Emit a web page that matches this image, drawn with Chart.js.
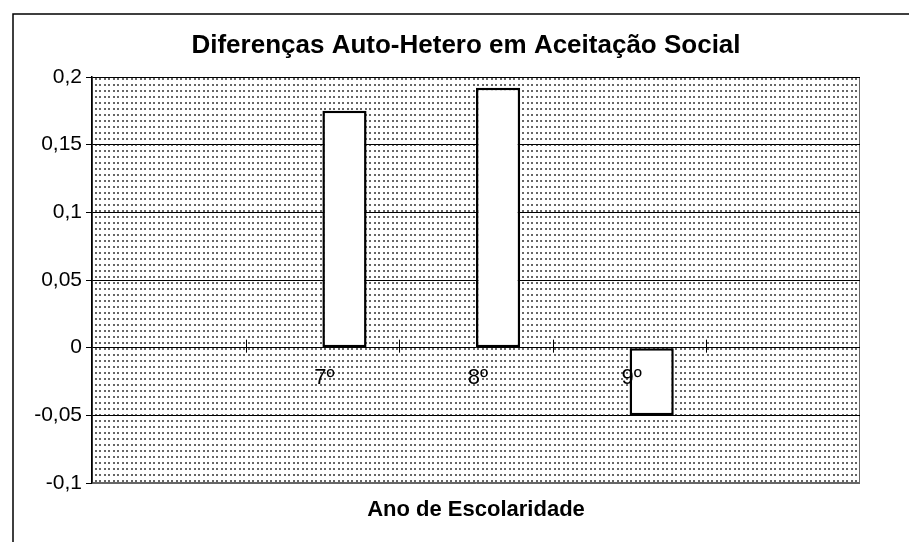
<!DOCTYPE html>
<html>
<head>
<meta charset="utf-8">
<script src="https://cdn.jsdelivr.net/npm/chart.js@4"></script>
<style>
  html, body { margin: 0; padding: 0; background: #fff; }
  #wrap { width: 909px; height: 542px; }
</style>
</head>
<body>
<div id="wrap"><canvas id="chart" width="909" height="542"></canvas></div>
<script>
// categories on the x axis (first and last slots are empty in the original)
const categories = ['', '7º', '8º', '9º', ''];
// first series has no values, it only takes up the left half of each group
const serie1 = [null, null, null, null, null];
const serie2 = [null, 0.175, 0.192, -0.05, null];
const yTicks = [-0.1, -0.05, 0, 0.05, 0.1, 0.15, 0.2];
const chartTitle = 'Diferenças Auto-Hetero em Aceitação Social';

const FONT = '"Liberation Sans", Arial, sans-serif';

function makeDots() {
  const c = document.createElement('canvas');
  c.width = 9; c.height = 6;
  const g = c.getContext('2d');
  g.fillStyle = '#fff';
  g.fillRect(0, 0, 9, 6);
  g.fillStyle = '#666';
  g.fillRect(0, 0, 2, 2);
  g.fillRect(5, 0, 2, 2);
  return c;
}

const chartFrame = {
  id: 'chartFrame',
  beforeDraw(chart) {
    const { ctx, chartArea: a } = chart;
    ctx.save();
    ctx.fillStyle = '#fff';
    ctx.fillRect(0, 0, chart.width, chart.height);
    // outer box of the chart object
    ctx.strokeStyle = '#000';
    ctx.lineWidth = 1.5;
    ctx.beginPath();
    ctx.moveTo(13, chart.height);
    ctx.lineTo(13, 14);
    ctx.lineTo(chart.width, 14);
    ctx.stroke();
    // title, centred a bit right of the plot like the original
    ctx.fillStyle = '#000';
    ctx.font = 'bold 26px ' + FONT;
    ctx.textAlign = 'center';
    ctx.textBaseline = 'middle';
    ctx.fillText(chartTitle, 466, 46);
    // dotted plot area
    ctx.fillStyle = ctx.createPattern(makeDots(), 'repeat');
    ctx.fillRect(a.left, a.top, a.right - a.left, a.bottom - a.top);
    ctx.strokeStyle = '#666';
    ctx.lineWidth = 1;
    ctx.strokeRect(a.left + 0.5, a.top + 0.5, a.right - a.left - 1, a.bottom - a.top - 1);
    ctx.restore();
  },
  afterDatasetsDraw(chart) {
    const { ctx } = chart;
    const x = chart.scales.x, y = chart.scales.y;
    const y0 = y.getPixelForValue(0);
    ctx.save();
    // category tick marks sit on the zero line
    ctx.strokeStyle = '#000';
    ctx.lineWidth = 1;
    for (let i = 0; i < categories.length - 1; i++) {
      const xb = Math.round((x.getPixelForValue(i) + x.getPixelForValue(i + 1)) / 2) + 0.5;
      ctx.beginPath();
      ctx.moveTo(xb, y0 - 8);
      ctx.lineTo(xb, y0 + 5);
      ctx.stroke();
    }
    ctx.fillStyle = '#000';
    ctx.font = '22px ' + FONT;
    ctx.textAlign = 'center';
    ctx.textBaseline = 'middle';
    categories.forEach((c, i) => {
      if (c) ctx.fillText(c, x.getPixelForValue(i) + 2, y0 + 30);
    });
    ctx.restore();
  }
};

const barStyle = {
  backgroundColor: '#fff',
  borderColor: '#000',
  borderWidth: 2.5,
  borderSkipped: false,
  categoryPercentage: 0.575,
  barPercentage: 1
};

new Chart(document.getElementById('chart'), {
  type: 'bar',
  data: {
    labels: categories,
    datasets: [
      { label: 'Série1', data: serie1, ...barStyle },
      { label: 'Série2', data: serie2, ...barStyle }
    ]
  },
  options: {
    responsive: false,
    animation: false,
    layout: { padding: { left: 0, right: 49, top: 77, bottom: 0 } },
    plugins: {
      legend: { display: false },
      tooltip: { enabled: false },
      colors: { enabled: false }
    },
    scales: {
      x: {
        grid: { display: false },
        border: { display: false },
        ticks: { display: false },
        title: {
          display: true,
          text: 'Ano de Escolaridade',
          color: '#000',
          font: { family: FONT, size: 22, weight: 'bold' },
          padding: { top: 0, bottom: 19 }
        },
        afterFit: s => { s.height = 59; }
      },
      y: {
        min: -0.1,
        max: 0.2,
        afterBuildTicks: s => { s.ticks = yTicks.map(v => ({ value: v })); },
        grid: {
          color: c => (c.tick && c.tick.value === -0.1 ? '#666' : '#000'),
          tickColor: '#000',
          lineWidth: 1,
          tickLength: 6
        },
        border: { color: '#000', width: 1.5 },
        ticks: {
          color: '#000',
          padding: 4,
          font: { family: FONT, size: 21 },
          callback: v => String(v).replace('.', ',')
        },
        afterFit: s => { s.width = 92; }
      }
    }
  },
  plugins: [chartFrame]
});
</script>
</body>
</html>
